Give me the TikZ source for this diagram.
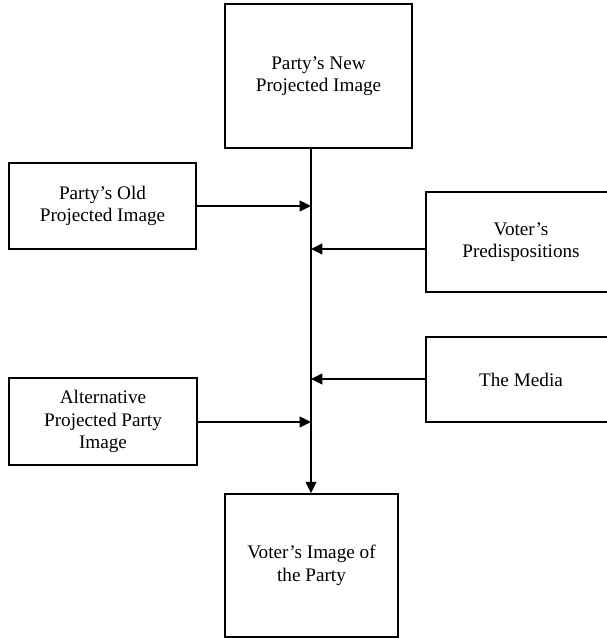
\documentclass[tikz,border=0pt]{standalone}
\usepackage{fontspec}
\setmainfont{Liberation Serif}
\usepackage{tikz}
\usetikzlibrary {positioning}
\usetikzlibrary {arrows.meta}

\begin{document}
\begin{tikzpicture}[x=0.75pt,y=-0.75pt,
        box/.style = {draw,line width=1.3pt,align=center,inner sep=0pt,
                      font=\fontsize{14.4}{16.8}\selectfont},
        feed/.style = {line width=1.3pt,arrows = -{Triangle[length=8.5pt,width=8pt]}}]

            %\draw [help lines] (0,0) grid (606,638);
            \useasboundingbox (0,0) rectangle (606,638);

            \path   (318.5,76)  node (new) [box,minimum width=140pt,minimum height=108pt] {Party’s New\\Projected Image}
                    (102.5,206) node (old) [box,minimum width=140pt,minimum height=64.5pt] {Party’s Old\\Projected Image}
                    (521,242)   node (pre) [box,minimum width=142.5pt,minimum height=75pt] {Voter’s\\Predispositions}
                    (521,379.5) node (med) [box,minimum width=142.5pt,minimum height=64pt] {The Media}
                    (103,421.5) node (alt) [box,minimum width=141pt,minimum height=65pt] {Alternative\\Projected Party\\Image}
                    (311.5,565.5) node (img) [box,minimum width=130pt,minimum height=107pt] {Voter’s Image of\\the Party};

            % points where the influences meet the main line
            \coordinate (j1) at (311,206);
            \coordinate (j2) at (311,249);
            \coordinate (j3) at (311,379);
            \coordinate (j4) at (311,422);

            \draw[feed] (new.south -| j1) -- (img.north -| j1);
            \draw[feed] (old.east |- j1) -- (j1);
            \draw[feed] (pre.west |- j2) -- (j2);
            \draw[feed] (med.west |- j3) -- (j3);
            \draw[feed] (alt.east |- j4) -- (j4);

\end{tikzpicture}
\end{document}
